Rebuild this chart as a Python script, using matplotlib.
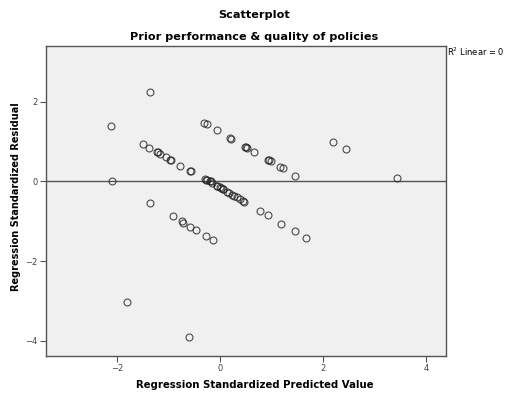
import matplotlib
matplotlib.use("Agg")
import matplotlib.pyplot as plt
import numpy as np

# Standardized predicted values (x) and standardized residuals (y)
pred = [
    # upper band
    -1.36, -2.12, -0.32, -0.26, -0.06, 0.20, 0.21, 0.49, 0.50, 0.52, 0.65,
    0.94, 0.95, 0.98, 1.17, 1.22, 1.46, 2.20, 2.45, 3.44,
    # middle band
    -2.10, -1.49, -1.38, -1.22, -1.21, -1.17, -1.05, -0.97, -0.96, -0.77,
    -0.58, -0.57, -0.29, -0.28, -0.25, -0.19, -0.18, -0.16, -0.06, -0.05,
    0.00, 0.01, 0.05, 0.06, 0.13, 0.18, 0.23, 0.28, 0.32, 0.39, 0.45, 0.47,
    0.78, 0.93, 1.19, 1.46, 1.67,
    # lower band
    -1.36, -0.92, -0.74, -0.71, -0.58, -0.47, -0.27, -0.13, -1.81, -0.60,
]
resid = [
    2.24, 1.40, 1.47, 1.44, 1.29, 1.08, 1.07, 0.87, 0.87, 0.84, 0.74,
    0.54, 0.54, 0.51, 0.37, 0.33, 0.15, 0.99, 0.81, 0.08,
    0.00, 0.94, 0.85, 0.74, 0.74, 0.70, 0.61, 0.55, 0.55, 0.40,
    0.27, 0.27, 0.06, 0.05, 0.03, 0.01, 0.00, -0.03, -0.11, -0.12,
    -0.15, -0.16, -0.19, -0.20, -0.26, -0.29, -0.33, -0.36, -0.40, -0.44, -0.50, -0.51,
    -0.75, -0.85, -1.06, -1.25, -1.41,
    -0.55, -0.87, -1.00, -1.03, -1.14, -1.22, -1.36, -1.47, -3.02, -3.91,
]
xticks = [-2, 0, 2, 4]
yticks = [-4, -2, 0, 2]

fig = plt.figure(figsize=(5.09, 4.01), dpi=100)
ax = fig.add_axes([0.0904, 0.1122, 0.786, 0.773])
ax.set_facecolor('#f0f0f0')

# reference line at zero residual
ax.axhline(0, color='#555555', linewidth=1.0, zorder=1)
ax.plot(pred, resid, linestyle='none', marker='o', markersize=5,
        markerfacecolor='none', markeredgecolor='#222222',
        markeredgewidth=0.8, alpha=0.8, zorder=2)

ax.set_xlim(-3.38, 4.39)
ax.set_ylim(-4.38, 3.40)
ax.set_xticks(xticks)
ax.set_yticks(yticks)
ax.tick_params(labelsize=6, labelcolor='#444444', length=4, width=0.8,
               color='#555555', pad=2)
for s in ax.spines.values():
    s.set_color('#555555')
    s.set_linewidth(1.0)

fig.text(0.5, 0.040, 'Regression Standardized Predicted Value', ha='center',
         va='center', fontsize=7.3, fontweight='bold')
fig.text(0.031, 0.509, 'Regression Standardized Residual', ha='center',
         va='center', rotation=90, fontsize=7.0, fontweight='bold')

fig.text(0.5, 0.963, 'Scatterplot', ha='center', va='center',
         fontsize=8.1, fontweight='bold')
fig.text(0.5, 0.908, 'Prior performance & quality of policies', ha='center',
         va='center', fontsize=8.1, fontweight='bold')
fig.text(0.878, 0.872, r'R$^2$ Linear = 0', ha='left', va='center',
         fontsize=6)

fig.savefig('out.png', dpi=100)
